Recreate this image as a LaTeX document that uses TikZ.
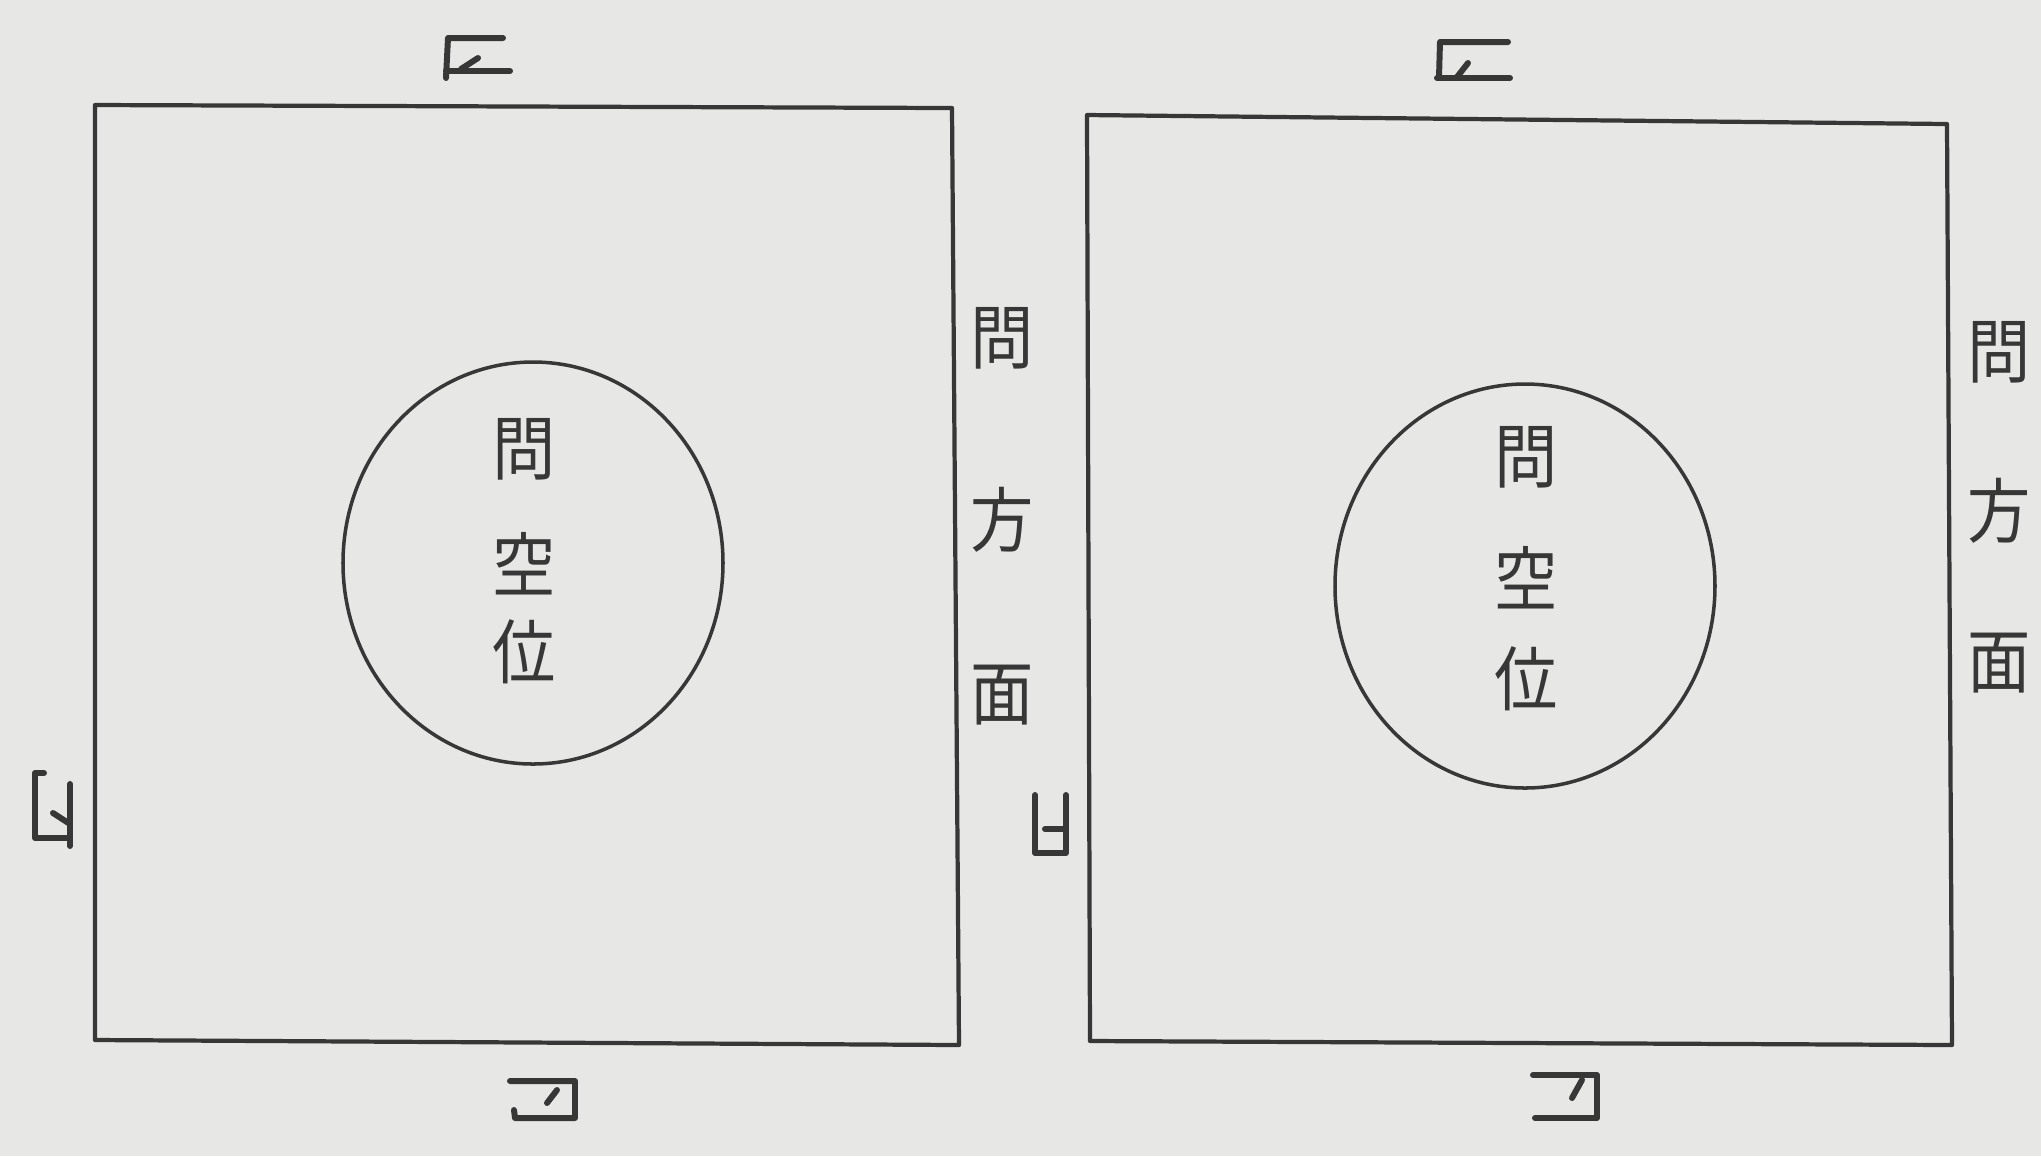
\documentclass[tikz,border=0pt]{standalone}
\usepackage{fontspec}
\newfontfamily\cjk{Noto Sans CJK JP}
\definecolor{paper}{RGB}{231,231,229}
\definecolor{ink}{RGB}{55,55,55}
\begin{document}
\begin{tikzpicture}[x=0.01cm,y=-0.01cm,
  frame/.style={draw=ink,line width=1.2pt,line join=round},
  ring/.style={draw=ink,line width=1pt},
  kanji/.style={text=ink,font=\cjk\fontsize{20}{20}\selectfont,inner sep=0pt,xscale=0.9},
  glyph/.style={draw=ink,line width=1.7pt,line cap=round,line join=round}]
\fill[paper] (0,0) rectangle (2041,1156);
\useasboundingbox (0,0) rectangle (2041,1156);
% left figure
\draw[frame] (95,105) -- (952,108) -- (959,1045) -- (95,1040) -- cycle;
\draw[ring] (533,563) ellipse [x radius=190, y radius=201];
\node[kanji] (l1) at (524,449) {問};
\node[kanji] (l2) at (524,564) {空};
\node[kanji] (l3) at (524,652) {位};
\node[kanji] (lo1) at (1002,338) {問};
\node[kanji] (lo2) at (1002,520) {方};
\node[kanji] (lo3) at (1002,695) {面};
% right figure
\draw[frame] (1087,115) -- (1947,124) -- (1952,1045) -- (1090,1041) -- cycle;
\draw[ring] (1525,586) ellipse [x radius=190, y radius=202];
\node[kanji] (r1) at (1526,457) {問};
\node[kanji] (r2) at (1526,578) {空};
\node[kanji] (r3) at (1526,679) {位};
\node[kanji] (ro1) at (1999,352) {問};
\node[kanji] (ro2) at (1999,511) {方};
\node[kanji] (ro3) at (1999,663) {面};
% orientation marks, left figure
\draw[glyph] (503,38) -- (448,38) -- (446,78);
\draw[glyph] (446,71) -- (510,71);
\draw[glyph] (461,69) -- (478,58);
\draw[glyph] (510,1081) -- (575,1081) -- (575,1118) -- (515,1118) -- (514,1110);
\draw[glyph] (547,1103) -- (557,1090);
\draw[glyph] (44,773) -- (35,773) -- (35,838) -- (70,838);
\draw[glyph] (70,784) -- (70,846);
\draw[glyph] (53,813) -- (70,824);
% orientation marks, right figure
\draw[glyph] (1508,42) -- (1440,42) -- (1439,78);
\draw[glyph] (1437,78) -- (1510,78);
\draw[glyph] (1457,77) -- (1468,63);
\draw[glyph] (1533,1075) -- (1597,1075) -- (1597,1118) -- (1535,1118);
\draw[glyph] (1572,1098) -- (1582,1080);
\draw[glyph] (1035,795) -- (1035,853) -- (1066,853) -- (1066,795);
\draw[glyph] (1045,829) -- (1066,829);
\end{tikzpicture}
\end{document}
